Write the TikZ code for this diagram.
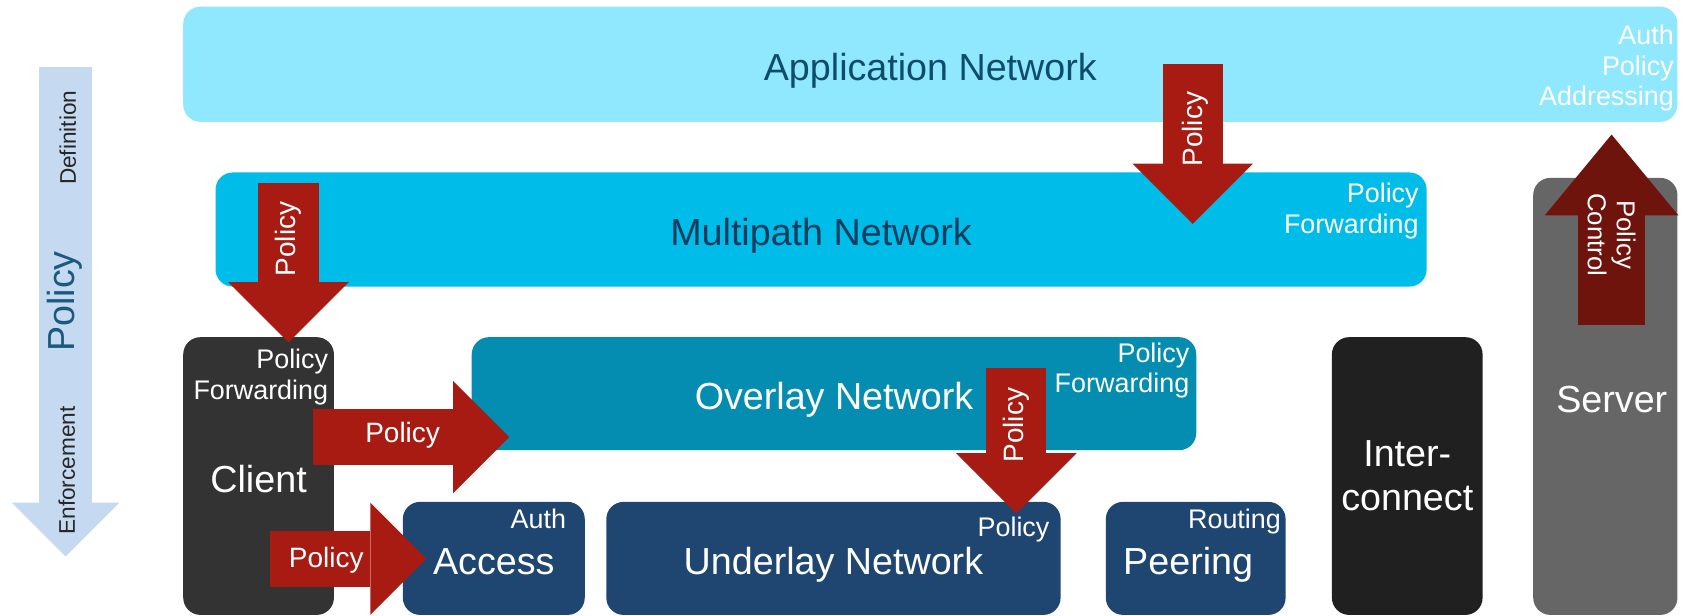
\documentclass[tikz,border=0pt]{standalone}
\usepackage{fontspec}
\setmainfont{Liberation Sans}
\usetikzlibrary{arrows.meta,positioning}
\definecolor{appcol}{HTML}{8FE8FD}
\definecolor{multicol}{HTML}{00BCE8}
\definecolor{overcol}{HTML}{048DB0}
\definecolor{undercol}{HTML}{1F4571}
\definecolor{clientcol}{HTML}{333333}
\definecolor{intercol}{HTML}{202020}
\definecolor{servercol}{HTML}{666666}
\definecolor{polred}{HTML}{A71B13}
\definecolor{ctrlred}{HTML}{6F130D}
\definecolor{sidecol}{HTML}{C5D9F1}
\definecolor{apptext}{HTML}{0E4C6E}
\definecolor{multitext}{HTML}{0C3C5E}
\definecolor{polblue}{HTML}{1B5A7E}
\begin{document}
\begin{tikzpicture}[x=1pt, y=-1pt,
    box/.style={rectangle, rounded corners=16pt, anchor=north west, inner sep=0pt,
        align=center, text=white, font=\fontsize{35}{41}\selectfont},
    oneline/.style={text height=30pt, text depth=0pt},
    title/.style={inner sep=0pt, text=white, font=\fontsize{35}{41}\selectfont,
        text height=30pt, text depth=0pt},
    tag/.style={anchor=north east, align=right, inner sep=0pt, text=white,
        font=\fontsize{25}{28.5}\selectfont},
    arrowtext/.style={text=white, inner sep=0pt, font=\fontsize{26}{29}\selectfont},
    sidetext/.style={rotate=90, inner sep=0pt, font=\fontsize{21}{25}\selectfont},
    pol/.style={draw=polred, line width=56pt,
        -{Triangle[length=56pt,width=112pt,line width=0pt]}},
    polside/.style={draw=polred, line width=52pt,
        -{Triangle[length=52pt,width=104pt,line width=0pt]}}]

\useasboundingbox (0,0) rectangle (1568,572);

% left scale
\coordinate (s1) at (61,62);
\coordinate (s2) at (61,517);
\draw[draw=sidecol, line width=49pt, -{Triangle[length=50pt,width=100pt,line width=0pt]}] (s1) -- (s2);
\node[sidetext, text=black!85] (def) at (63,128) {Definition};
\node[sidetext, text=polblue, font=\fontsize{35}{40}\selectfont] (pol) at (60,280) {Policy};
\node[sidetext, text=black!85] (enf) at (62,437) {Enforcement};

% layers
\node[box, oneline, fill=appcol, text=apptext, minimum width=1388pt, minimum height=107pt] (app) at (170,6) {Application Network};
\node[box, oneline, fill=multicol, text=multitext, minimum width=1125pt, minimum height=106pt] (multi) at (200,160) {Multipath Network};
\node[box, oneline, fill=overcol, minimum width=673pt, minimum height=105pt] (over) at (438,313) {Overlay Network};
\node[box, oneline, fill=clientcol, minimum width=140pt, minimum height=258pt] (client) at (170,313) {Client};
\node[box, oneline, fill=undercol, minimum width=169pt, minimum height=105pt] (access) at (374,466) {Access};
\node[box, oneline, fill=undercol, minimum width=422pt, minimum height=105pt] (under) at (563,466) {Underlay Network};
\node[box, fill=undercol, minimum width=167pt, minimum height=105pt] (peer) at (1027,466) {};
\node[title] (peertext) at ([xshift=-7pt]peer.center) {Peering};
\node[box, fill=intercol, minimum width=140pt, minimum height=258pt] (inter) at (1237,313) {Inter-\\connect};
\node[box, fill=servercol, minimum width=134pt, minimum height=406pt] (server) at (1424,165) {};
\node[title] (servertext) at ([xshift=6pt]server.center) {Server};

\node[tag] (apptag) at (1555,23) {Auth\\Policy\\Addressing};
\node[tag] (multitag) at (1318,170) {Policy\\Forwarding};
\node[tag] (clienttag) at (305,324) {Policy\\Forwarding};
\node[tag] (overtag) at (1105,318) {Policy\\Forwarding};
\node[tag] (accesstag) at (526,473) {Auth};
\node[tag] (undertag) at (975,480) {Policy};
\node[tag] (peertag) at (1190,473) {Routing};

% policy arrows
\coordinate (p1a) at (1108,59);
\coordinate (p1b) at (1108,208);
\coordinate (p2a) at (268,170);
\coordinate (p2b) at (268,318);
\coordinate (p3a) at (291,406);
\coordinate (p3b) at (473,406);
\coordinate (p4a) at (251,519);
\coordinate (p4b) at (396,519);
\coordinate (p5a) at (944,342);
\coordinate (p5b) at (944,477);
\coordinate (c1a) at (1497,302);
\coordinate (c1b) at (1497,125);

\draw[pol] (p1a) -- (p1b);
\draw[pol] (p2a) -- (p2b);
\draw[polside] (p3a) -- (p3b);
\draw[polside] (p4a) -- (p4b);
\draw[pol] (p5a) -- (p5b);
\draw[draw=ctrlred, line width=62pt, -{Triangle[length=75pt,width=124pt,line width=0pt]}] (c1a) -- (c1b);

\node[arrowtext, rotate=90] (p1t) at (1110,120) {Policy};
\node[arrowtext, rotate=90] (p2t) at (268,222) {Policy};
\node[arrowtext] (p3t) at (374,404) {Policy};
\node[arrowtext] (p4t) at (303,520) {Policy};
\node[arrowtext, rotate=90] (p5t) at (944,395) {Policy};
\node[arrowtext, rotate=-90, align=center, font=\fontsize{24}{27}\selectfont] (c1t) at (1497,218) {Policy\\Control};
\end{tikzpicture}
\end{document}
